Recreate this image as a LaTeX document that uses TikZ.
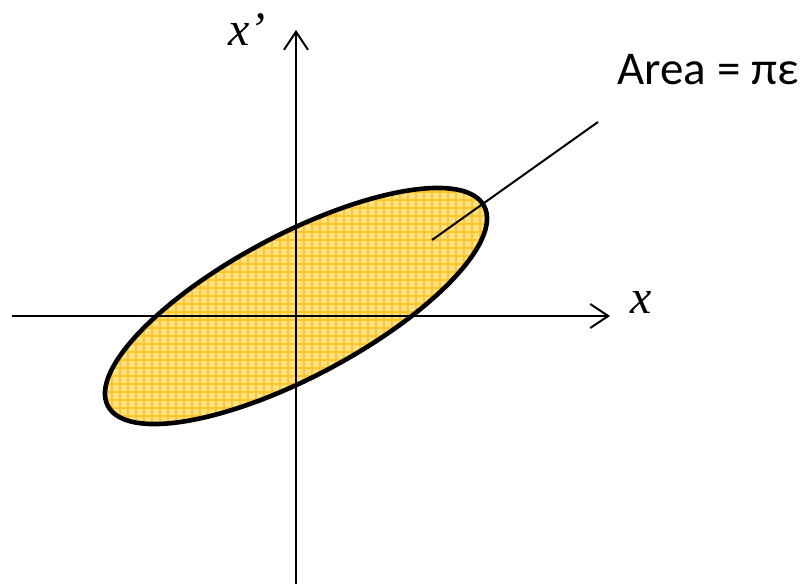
\documentclass[tikz,border=0pt]{standalone}
\usepackage{fontspec}
\setmainfont{Liberation Serif}
\newfontfamily\areafont{Carlito}
\usepackage{tikz}
\usetikzlibrary{arrows.meta, positioning}
\definecolor{ouro}{RGB}{255, 224, 130}
\definecolor{laranja}{RGB}{255, 196, 40}

\begin{document}
\begin{tikzpicture}[x=0.5pt, y=0.5pt,
  axis/.style={line width=1pt, -{Straight Barb[length=9pt, width=12pt, line width=1pt]}},
  axlabel/.style={inner sep=0pt, font=\fontsize{24}{28}\selectfont\itshape}]
  \useasboundingbox (0,0) rectangle (804,584);
  % eixos
  \coordinate (xa) at (12,268);
  \coordinate (xb) at (610,268);
  \coordinate (ya) at (296,0);
  \coordinate (yb) at (296,554);
  \coordinate (c) at (296,278);
  % elipse
  \fill[ouro, rotate around={28:(c)}] (c) ellipse (106.5pt and 35.5pt);
  \begin{scope}
    \clip[rotate around={28:(c)}] (c) ellipse (106.5pt and 35.5pt);
    \draw[laranja, line width=0.6pt, step=4pt] (96,140) grid (500,420);
  \end{scope}
  \draw[axis] (xa) -- (xb);
  \draw[axis] (ya) -- (yb);
  \draw[line width=2.3pt, rotate around={28:(c)}] (c) ellipse (106.5pt and 35.5pt);
  % r\'otulos
  \node[axlabel] (xl) at (641,282) {x};
  \node[axlabel] (xpl) at (247,554) {x’};
  \node[inner sep=0pt, font=\areafont\fontsize{23.5}{27}\selectfont] (area) at (708,514) {Area = πε};
  \coordinate (p) at (432,344);
  \coordinate (q) at (598,462);
  \draw[line width=1pt] (p) -- (q);
\end{tikzpicture}
\end{document}
